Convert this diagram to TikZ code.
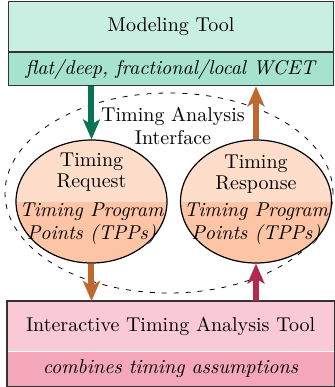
\documentclass[tikz,border=0pt]{standalone}
\usetikzlibrary{positioning,shapes.geometric,arrows.meta}

\definecolor{mintlight}{HTML}{C8EFE2}
\definecolor{mintdark}{HTML}{A6E3CF}
\definecolor{pinklight}{HTML}{F9C9D5}
\definecolor{pinkdark}{HTML}{F4A7B9}
\definecolor{peachlight}{HTML}{FFDDCB}
\definecolor{peachdark}{HTML}{FDC5A6}
\definecolor{reqgreen}{HTML}{0A7355}
\definecolor{resporange}{HTML}{C26630}
\definecolor{toolred}{HTML}{B3284D}

\tikzset{
  toolbox/.style={draw=black!80, line width=0.6pt, rectangle, inner sep=0pt},
  tppell/.style={draw=black, line width=0.6pt, ellipse, inner sep=0pt,
    minimum width=75.5pt, minimum height=61.5pt, fill=peachlight,
    path picture={\fill[peachdark] (path picture bounding box.south west)
      rectangle (path picture bounding box.east);}},
  flow/.style={line width=3pt, -{Stealth[length=10pt,width=8.5pt,inset=2.5pt]}},
}

\begin{document}
\begin{tikzpicture}[x=0.5pt, y=-0.5pt]
    \useasboundingbox (0,0) rectangle (334,387);

    % Modeling tool on top
    \node[toolbox, fill=mintlight, minimum width=162.5pt, minimum height=25pt,
      anchor=north west] (model) at (8,1) {Modeling Tool};
    \node[toolbox, fill=mintdark, minimum width=162.5pt, minimum height=16.5pt,
      below=0pt of model] (modelsub) {\textit{flat/deep, fractional/local WCET}};

    % Analysis tool at the bottom
    \node[toolbox, draw=none, fill=pinklight, minimum width=163pt, minimum height=24.8pt,
      anchor=north west] (ita) at (7,301) {Interactive Timing Analysis Tool};
    \node[toolbox, draw=none, fill=pinkdark, minimum width=163pt, minimum height=17pt,
      below=-0.3pt of ita] (itasub) {\textit{combines timing assumptions}};
    \draw[black!80, line width=0.6pt] (ita.north west) rectangle (itasub.south east);

    % The interface around both requests
    \node[draw, ellipse, dashed, dash pattern=on 2.5pt off 3.5pt, inner sep=0pt,
      minimum width=164pt, minimum height=100pt] (iface) at (169,193) {};
    \node[align=center, inner sep=0pt] (ifacelabel) at (173,126)
      {Timing Analysis\\[-0.5pt]Interface};

    % Request and response, each with its TPPs
    \node[tppell] (req) at (91.5,201.5) {};
    \node[tppell] (resp) at (256,201.5) {};
    \node[align=center, inner sep=0pt] (reqtop) at (91.5,172) {Timing\\[-1.5pt]Request};
    \node[align=center, inner sep=0pt] (resptop) at (256,174) {Timing\\[-1.5pt]Response};
    \node[align=center, inner sep=0pt, font=\itshape] (reqtpp) at (91.5,224)
      {Timing Program\\[-0.5pt]Points (TPPs)};
    \node[align=center, inner sep=0pt, font=\itshape] (resptpp) at (256,224)
      {Timing Program\\[-0.5pt]Points (TPPs)};

    % Flow between the tools
    \draw[flow, reqgreen] (modelsub.south -| req.north) -- (req.north);
    \draw[flow, resporange] (resp.north) -- (modelsub.south -| resp.north);
    \draw[flow, resporange] (req.south) -- (ita.north -| req.south);
    \draw[flow, toolred] (ita.north -| resp.south) -- (resp.south);
\end{tikzpicture}
\end{document}
